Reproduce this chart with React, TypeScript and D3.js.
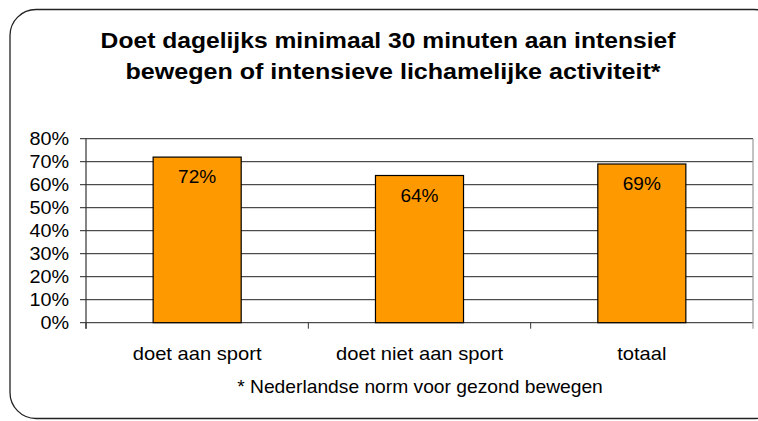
import React from "react";
import * as d3 from "d3";

const categories = ["doet aan sport", "doet niet aan sport", "totaal"];
const values = [72, 64, 69];
const yTicks = [0, 10, 20, 30, 40, 50, 60, 70, 80];
const titleLines = [
  "Doet dagelijks minimaal 30 minuten aan intensief",
  "bewegen of intensieve lichamelijke activiteit*",
];
const footnote = "* Nederlandse norm voor gezond bewegen";

const W = 758;
const H = 421;
const left = 86;
const right = 753;
const top = 138.7;
const bottom = 322.7;
const SX = 1.1;

function T(props: {
  x: number;
  y: number;
  size: number;
  anchor?: "start" | "middle" | "end";
  bold?: boolean;
  sx?: number;
  children: React.ReactNode;
}) {
  return (
    <text
      transform={`translate(${props.x},${props.y}) scale(${props.sx ?? SX},1)`}
      textAnchor={props.anchor ?? "middle"}
      fontSize={props.size}
      fontWeight={props.bold ? "bold" : "normal"}
      fill="#000"
    >
      {props.children}
    </text>
  );
}

export default function App() {
  const x = d3
    .scaleBand<string>()
    .domain(categories)
    .range([left, right])
    .paddingInner(0.604)
    .paddingOuter(0.302);
  const y = d3.scaleLinear().domain([0, 80]).range([bottom, top]);
  const font = "'Liberation Sans', Arial, sans-serif";
  const bandStep = (right - left) / categories.length;
  return (
    <div style={{ position: "absolute", left: 0, top: 0 }}>
      <svg width={W} height={H} style={{ display: "block" }} fontFamily={font}>
        <rect x={0} y={0} width={W} height={H} fill="#fff" />
        <rect x={10} y={9.5} width={770} height={409} rx={26} ry={26} fill="none" stroke="#222" strokeWidth={1.3} />
        <T x={388} y={48} size={22} bold sx={1.12}>
          {titleLines[0]}
        </T>
        <T x={393} y={79} size={22} bold sx={1.14}>
          {titleLines[1]}
        </T>
        {yTicks.map((t) => (
          <g key={t}>
            <line x1={left} x2={right} y1={y(t)} y2={y(t)} stroke="#222" strokeWidth={1} />
            <line x1={left - 6} x2={left} y1={y(t)} y2={y(t)} stroke="#222" />
            <T x={69} y={y(t) + 6.6} size={18} anchor="end">
              {t}%
            </T>
          </g>
        ))}
        <line x1={left} x2={left} y1={top} y2={bottom + 6} stroke="#333" strokeWidth={1.2} />
        <line x1={right} x2={right} y1={top} y2={bottom + 6} stroke="#999" strokeWidth={1.2} />
        {categories.map((c, i) => (
          <line
            key={"tk" + i}
            x1={left + bandStep * i}
            x2={left + bandStep * i}
            y1={bottom}
            y2={bottom + 6}
            stroke="#333"
          />
        ))}
        {categories.map((c, i) => (
          <g key={c}>
            <rect
              x={x(c)!}
              y={y(values[i])}
              width={x.bandwidth()}
              height={bottom - y(values[i])}
              fill="#FF9900"
              stroke="#000"
              strokeWidth={1.2}
            />
            <T x={x(c)! + x.bandwidth() / 2} y={y(values[i]) + 26} size={18} sx={1.06}>
              {values[i]}%
            </T>
            <T x={x(c)! + x.bandwidth() / 2} y={360} size={18} sx={1.12}>
              {c}
            </T>
          </g>
        ))}
        <T x={420} y={393} size={17.5}>
          {footnote}
        </T>
      </svg>
    </div>
  );
}
